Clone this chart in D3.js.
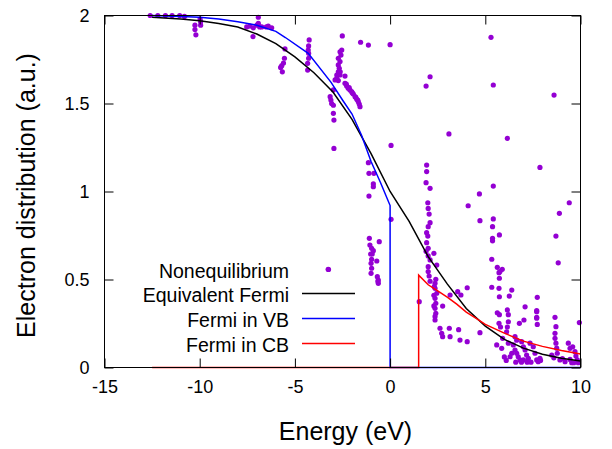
<!DOCTYPE html>
<html>
<head>
<meta charset="utf-8">
<script src="https://cdn.jsdelivr.net/npm/d3@7"></script>
<style>
  body { margin: 0; background: #fff; }
  svg text { font-family: "Liberation Sans", Arial, sans-serif; fill: #000; }
</style>
</head>
<body>
<div id="chart"></div>
<script>
// tick values
const xTicks = [-15, -10, -5, 0, 5, 10];
const yTicks = [0, 0.5, 1, 1.5, 2];

// Equivalent Fermi curve [energy, distribution]
const equivFermi = [
  [-12.5, 1.99], [-11, 1.98], [-10, 1.97], [-9, 1.955], [-8, 1.935], [-7, 1.895],
  [-6, 1.84], [-5, 1.765], [-4, 1.675], [-3, 1.565], [-2, 1.41], [-1, 1.215],
  [0, 1.0], [1, 0.83], [2, 0.63], [3, 0.475], [4, 0.335], [5, 0.235],
  [6, 0.16], [7, 0.11], [8, 0.075], [9, 0.052], [10, 0.037]
];

// Fermi in VB
const fermiVB = [
  [-12.5, 2.0], [-11, 1.995], [-10, 1.99], [-9, 1.98], [-8, 1.965], [-7, 1.945],
  [-6, 1.91], [-5.5, 1.875], [-4.3, 1.785], [-3.1, 1.62], [-2.5, 1.52], [-2, 1.44],
  [-1.5, 1.32], [-1, 1.17], [-0.5, 1.05], [0, 0.92], [0, 0], [10, 0]
];

// Fermi in CB
const fermiCB = [
  [-12.5, 0], [1.5, 0], [1.5, 0.525], [2, 0.47], [2.5, 0.435], [3, 0.40], [3.5, 0.36],
  [4, 0.315], [4.5, 0.28], [5, 0.245], [6, 0.195], [7, 0.15], [8, 0.12],
  [9, 0.097], [10, 0.077]
];

// Nonequilibrium distribution points
const noneq = [
  [-12.6, 2.0], [-12.2, 2.0], [-11.8, 2.0], [-11.45, 2.0], [-11.05, 2.0], [-10.8, 1.995],
  [-10.25, 1.945], [-10.25, 1.92], [-10.2, 1.89], [-9.95, 1.965], [-9.95, 1.945], [-9.98, 1.98],
  [-7.53, 1.935], [-7.36, 1.94], [-7.18, 1.93], [-7.2, 1.88], [-6.92, 1.99], [-6.92, 1.955],
  [-6.85, 1.935], [-6.74, 1.935], [-6.4, 1.94], [-6.22, 1.93], [-6.5, 1.935], [-7.0, 1.945],
  [-5.52, 1.81], [-5.55, 1.757], [-5.6, 1.73], [-5.69, 1.715], [-5.75, 1.705], [-5.66, 1.68],
  [-4.25, 1.861], [-4.28, 1.827], [-4.3, 1.804], [-4.28, 1.785], [-4.28, 1.757], [-4.33, 1.728], [-4.33, 1.69],
  [-3.15, 1.539], [-3.11, 1.52], [-3.07, 1.50], [-2.98, 1.49], [-2.98, 1.444], [-2.95, 1.406],
  [-2.95, 1.245], [-2.98, 1.577],
  [-2.51, 1.884], [-2.54, 1.804], [-2.63, 1.794], [-2.58, 1.775], [-2.72, 1.757], [-2.63, 1.738],
  [-2.72, 1.719], [-2.67, 1.70], [-2.72, 1.68], [-2.62, 1.68], [-2.80, 1.662], [-2.63, 1.662],
  [-2.80, 1.643], [-2.89, 1.634], [-2.72, 1.63], [-2.37, 1.656],
  [-2.37, 1.615], [-2.28, 1.60], [-2.20, 1.586], [-2.11, 1.577], [-2.02, 1.567], [-1.93, 1.554],
  [-1.84, 1.539], [-1.75, 1.524], [-1.67, 1.51], [-1.62, 1.497], [-1.58, 1.482],
  [-2.3, 1.61], [-2.15, 1.59], [-1.98, 1.56], [-1.8, 1.535], [-1.7, 1.52],
  [-1.55, 1.848], [-1.14, 1.832], [0.0, 1.834], [0.05, 1.262],
  [-1.14, 1.164], [-1.11, 1.103], [-0.85, 1.103], [-0.88, 1.043], [-0.88, 1.027], [-1.11, 0.974],
  [-1.09, 0.734], [-1.06, 0.696], [-0.97, 0.677], [-0.88, 0.664], [-1.02, 0.645], [-0.94, 0.645],
  [-0.97, 0.615], [-0.70, 0.605], [-1.0, 0.592], [-0.97, 0.564], [-1.0, 0.535], [-0.67, 0.516],
  [-0.62, 0.497], [-0.62, 0.478], [-0.57, 0.715], [-0.64, 0.49],
  [-3.25, 0.558], [0.05, 0.842],
  [1.89, 1.05], [2.1, 1.018], [1.98, 0.936], [2.0, 0.904], [2.05, 0.872], [2.1, 0.823], [2.0, 0.80],
  [1.92, 0.766], [1.98, 0.747], [1.92, 0.709], [2.0, 0.677], [1.89, 0.66], [2.3, 0.649], [2.0, 0.634],
  [2.1, 0.611], [2.45, 0.582], [2.0, 0.573], [2.0, 0.545], [2.05, 0.52], [2.4, 0.501], [2.1, 0.49],
  [2.36, 0.478], [2.36, 0.45], [2.45, 0.422], [2.36, 0.393], [2.4, 0.365], [2.36, 0.336], [2.4, 0.308],
  [2.36, 0.27], [2.36, 0.29], [2.3, 0.35], [2.3, 0.41], [2.32, 0.46], [2.62, 0.223], [2.71, 0.194],
  [2.76, 0.175], [3.11, 0.223], [3.15, 0.175], [3.6, 0.215], [3.67, 0.156], [4.05, 0.147], [2.76, 0.349],
  [3.15, 0.412], [3.55, 0.431], [3.72, 0.412], [4.05, 0.453], [1.53, 0.374], [4.72, 0.198],
  [1.89, 1.599], [2.1, 1.652], [3.09, 1.327], [1.92, 1.15], [1.92, 1.113],
  [5.30, 1.876], [5.42, 1.605], [8.61, 1.548], [6.16, 1.302], [7.87, 1.137], [5.42, 1.031], [4.69, 0.986],
  [4.1, 0.919], [4.72, 0.834], [5.42, 0.844], [5.38, 0.80], [5.38, 0.734], [5.38, 0.72], [5.74, 0.753],
  [5.34, 0.615], [5.63, 0.569], [5.72, 0.539], [5.89, 0.558], [5.77, 0.545], [5.74, 0.507], [5.34, 0.456],
  [5.72, 0.45], [6.39, 0.44], [5.74, 0.402], [6.26, 0.406], [7.09, 0.345], [7.73, 0.399], [7.7, 0.323],
  [7.7, 0.285], [7.73, 0.245], [8.71, 0.747], [8.83, 0.595], [8.89, 0.876], [9.41, 0.936], [8.66, 0.285],
  [8.71, 0.232], [9.94, 0.255],
  [5.63, 0.311], [5.74, 0.30], [6.16, 0.327], [6.21, 0.30], [5.72, 0.251], [5.8, 0.23], [6.21, 0.26],
  [6.16, 0.23], [6.79, 0.251], [7.03, 0.27], [7.7, 0.317], [7.7, 0.28], [8.66, 0.194], [8.66, 0.166],
  [8.71, 0.138], [8.75, 0.11],
  [5.6, 0.128], [5.86, 0.109], [5.91, 0.166], [6.12, 0.203], [6.21, 0.138], [6.47, 0.128], [6.56, 0.175],
  [6.65, 0.155], [6.56, 0.099], [6.65, 0.081], [6.73, 0.061], [6.82, 0.043], [6.91, 0.147], [7.0, 0.118],
  [7.09, 0.1], [7.17, 0.071], [7.26, 0.052], [7.35, 0.138], [7.52, 0.118], [7.61, 0.081], [7.7, 0.043],
  [7.87, 0.052], [7.78, 0.033], [7.0, 0.043], [6.39, 0.081], [6.3, 0.061], [9.36, 0.138], [9.45, 0.109],
  [9.59, 0.118], [9.71, 0.09], [9.76, 0.065], [9.83, 0.043], [9.45, 0.046], [9.54, 0.027], [9.65, 0.027],
  [9.88, 0.027], [8.49, 0.071], [8.6, 0.055], [8.78, 0.081], [8.92, 0.043], [9.05, 0.05], [9.19, 0.033],
  [6.0, 0.06], [6.1, 0.04], [6.9, 0.03], [7.4, 0.03], [7.9, 0.04], [6.6, 0.03], [7.2, 0.03]
];

const legendLabels = ["Nonequilibrium", "Equivalent Fermi", "Fermi in VB", "Fermi in CB"];

const W = 612, H = 449;
const margin = {top: 15.5, right: 31.5, bottom: 81.5, left: 104.5};
const width = W - margin.left - margin.right,
      height = H - margin.top - margin.bottom;

const svg = d3.select("#chart")
  .append("svg")
  .attr("width", W)
  .attr("height", H);

const g = svg.append("g")
  .attr("transform", `translate(${margin.left},${margin.top})`);

const x = d3.scaleLinear().domain([-15, 10]).range([0, width]);
const y = d3.scaleLinear().domain([0, 2]).range([height, 0]);

const ptColor = "#9400d3";
const plain = d => String(d);   // gnuplot style labels: "-15", "1.5", "2"

// points first, lines on top
g.append("g").attr("class", "dots")
  .selectAll("circle")
  .data(noneq)
  .join("circle")
  .attr("cx", d => x(d[0]))
  .attr("cy", d => y(d[1]))
  .attr("r", 2.6)
  .attr("fill", ptColor);

const line = d3.line().x(d => x(d[0])).y(d => y(d[1]));

const series = [
  {data: equivFermi, color: "#000000"},
  {data: fermiVB, color: "#0000ff"},
  {data: fermiCB, color: "#ff0000"}
];

g.append("g").attr("class", "lines")
  .selectAll("path")
  .data(series)
  .join("path")
  .attr("d", d => line(d.data))
  .attr("fill", "none")
  .attr("stroke", d => d.color)
  .attr("stroke-width", 1.5);

// axes: ticks pointing inward, mirrored on top and right
const xAxis = g.append("g")
  .attr("transform", `translate(0,${height})`)
  .call(d3.axisBottom(x).tickValues(xTicks).tickFormat(plain).tickSizeInner(-9).tickSizeOuter(0).tickPadding(19));
const yAxis = g.append("g")
  .call(d3.axisLeft(y).tickValues(yTicks).tickFormat(plain).tickSizeInner(-9).tickSizeOuter(0).tickPadding(15));
const xTop = g.append("g")
  .call(d3.axisTop(x).tickValues(xTicks).tickSizeInner(-9).tickSizeOuter(0).tickFormat(""));
const yRight = g.append("g")
  .attr("transform", `translate(${width},0)`)
  .call(d3.axisRight(y).tickValues(yTicks).tickSizeInner(-9).tickSizeOuter(0).tickFormat(""));

[xAxis, yAxis, xTop, yRight].forEach(a => {
  a.select(".domain").remove();
  a.selectAll(".tick line").attr("stroke", "#000");
  a.selectAll("text").attr("font-size", 18).attr("font-family", null);
});
xAxis.selectAll("text").attr("dy", "0.35em");

// frame
g.append("rect")
  .attr("width", width)
  .attr("height", height)
  .attr("fill", "none")
  .attr("stroke", "#000")
  .attr("stroke-width", 1);

// axis titles
svg.append("text")
  .attr("x", margin.left + width / 2 + 3)
  .attr("y", 440)
  .attr("text-anchor", "middle")
  .attr("font-size", 25)
  .text("Energy (eV)");

svg.append("text")
  .attr("transform", `translate(35,${margin.top + height / 2 + 4}) rotate(-90)`)
  .attr("text-anchor", "middle")
  .attr("font-size", 25)
  .text("Electron distribution (a.u.)");

// legend
const legY = [271.5, 295, 320, 345];
const leg = svg.append("g").attr("class", "legend");
legendLabels.forEach((lab, i) => {
  leg.append("text")
    .attr("x", 289)
    .attr("y", legY[i])
    .attr("dy", "0.35em")
    .attr("text-anchor", "end")
    .attr("font-size", 19.5)
    .text(lab);
});
leg.append("circle")
  .attr("cx", 328.5).attr("cy", legY[0] - 2).attr("r", 2.6).attr("fill", ptColor);
series.forEach((s, i) => {
  leg.append("line")
    .attr("x1", 302).attr("x2", 355)
    .attr("y1", legY[i + 1] - 1.5).attr("y2", legY[i + 1] - 1.5)
    .attr("stroke", s.color)
    .attr("stroke-width", 1.5);
});
</script>
</body>
</html>
